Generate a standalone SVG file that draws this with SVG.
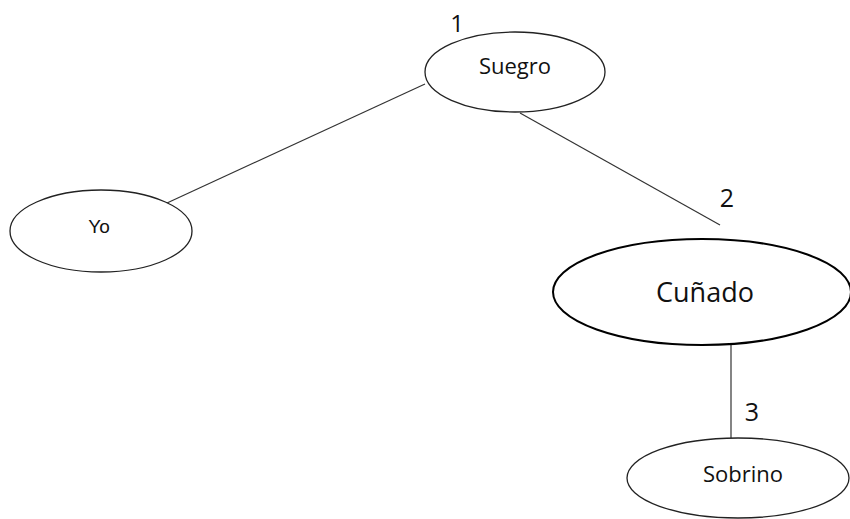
<svg xmlns="http://www.w3.org/2000/svg" width="850" height="519" viewBox="0 0 850 519">
<style>
.node{fill:#fff;stroke:#222;stroke-width:1.3}
.big{fill:#fff;stroke:#000;stroke-width:2}
.lbl{font-family:"Open Sans","Liberation Sans",sans-serif;fill:#111;text-anchor:middle}
.yo{font-family:"Liberation Sans",Arial,sans-serif;fill:#111;text-anchor:middle}
.edge{stroke:#333;stroke-width:1.2;fill:none}
</style>
<rect width="850" height="519" fill="#fff"/>
<g id="connectors">
<line class="edge" x1="425" y1="84" x2="167" y2="203"/>
<line class="edge" x1="520" y1="113" x2="720" y2="225"/>
<line class="edge" x1="731" y1="345" x2="731" y2="438"/>
</g>
<g id="suegro">
<ellipse class="node" cx="515" cy="72" rx="90" ry="40"/>
<text class="lbl" x="515" y="74" font-size="22">Suegro</text>
</g>
<g id="yo">
<ellipse class="node" cx="101" cy="231" rx="91" ry="41"/>
<text class="yo" x="99" y="233" font-size="19">Yo</text>
</g>
<g id="cunado">
<ellipse class="big" cx="702" cy="292" rx="149" ry="53"/>
<text class="lbl" x="705" y="302" font-size="27">Cuñado</text>
</g>
<g id="sobrino">
<ellipse class="node" cx="738" cy="478" rx="111" ry="40"/>
<text class="lbl" x="743" y="482" font-size="22">Sobrino</text>
</g>
<g id="labels">
<text class="lbl" x="457" y="32" font-size="24">1</text>
<text class="lbl" x="727" y="207" font-size="25">2</text>
<text class="lbl" x="752" y="421" font-size="25">3</text>
</g>
</svg>
